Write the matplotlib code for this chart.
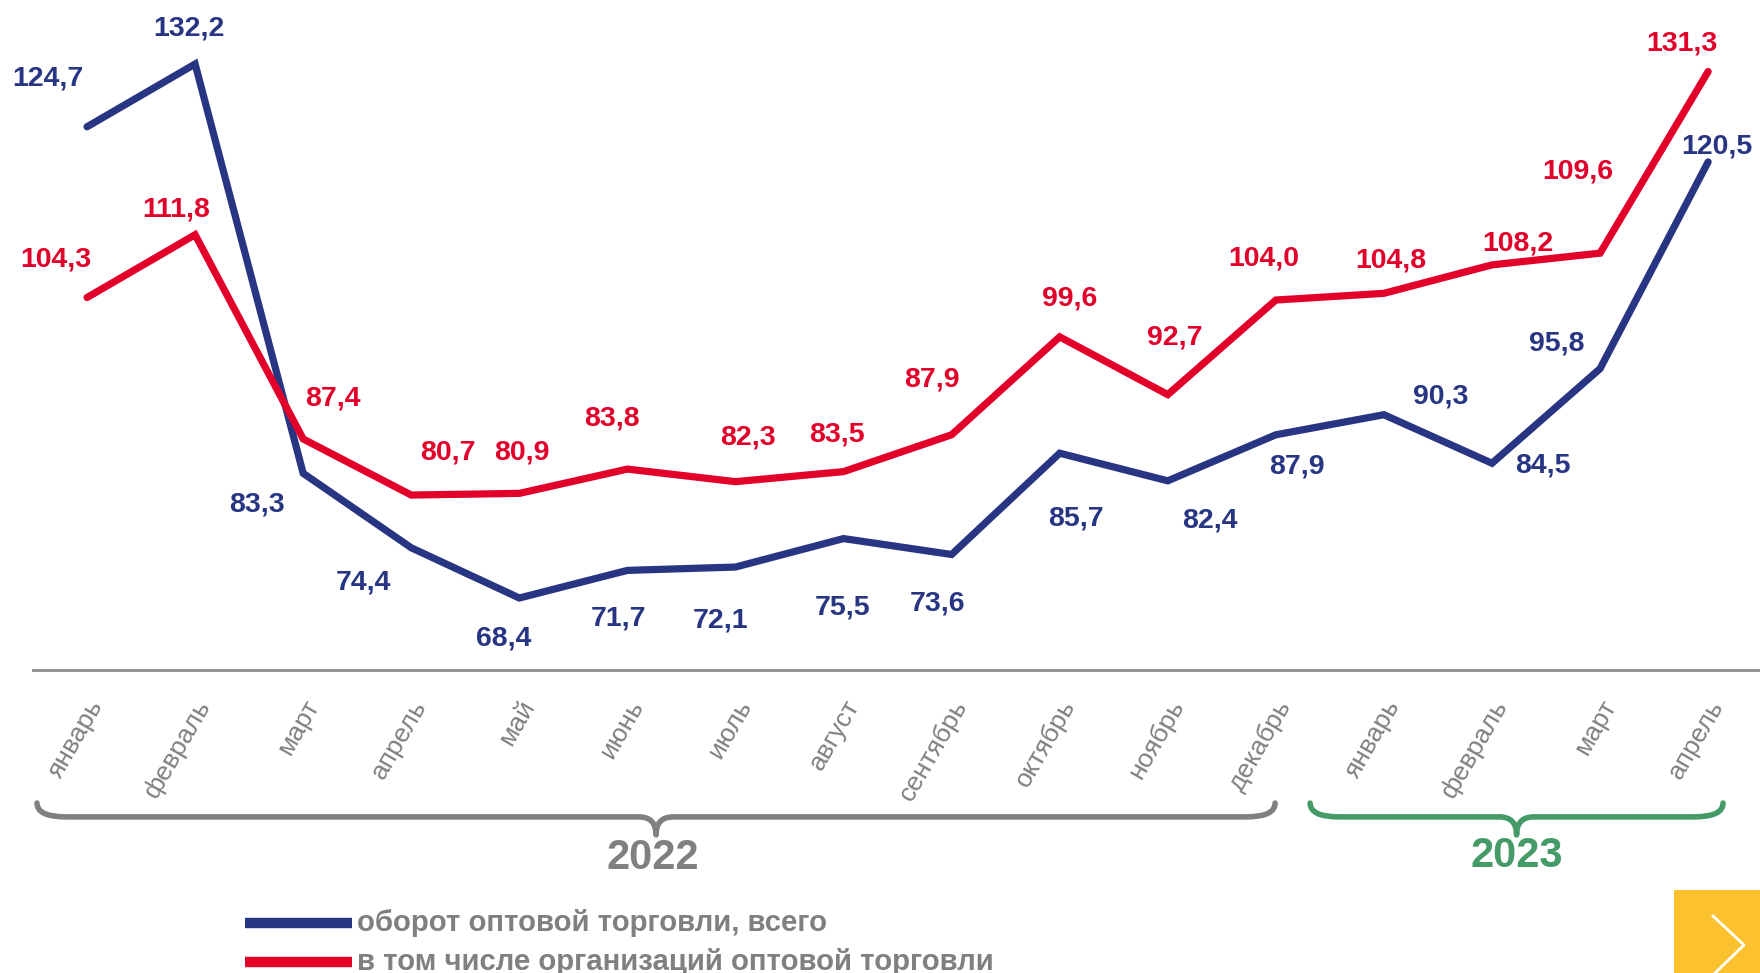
import matplotlib
matplotlib.use("Agg")
import matplotlib.pyplot as plt
import matplotlib.transforms as mtransforms
from matplotlib.path import Path
from matplotlib.patches import PathPatch, Rectangle
from matplotlib.lines import Line2D

plt.rcParams['font.family'] = ['Liberation Sans', 'DejaVu Sans']

months = ['январь', 'февраль', 'март', 'апрель', 'май', 'июнь', 'июль', 'август',
          'сентябрь', 'октябрь', 'ноябрь', 'декабрь',
          'январь', 'февраль', 'март', 'апрель']
total = [124.7, 132.2, 83.3, 74.4, 68.4, 71.7, 72.1, 75.5, 73.6, 85.7, 82.4, 87.9,
         90.3, 84.5, 95.8, 120.5]
orgs = [104.3, 111.8, 87.4, 80.7, 80.9, 83.8, 82.3, 83.5, 87.9, 99.6, 92.7, 104.0,
        104.8, 108.2, 109.6, 131.3]
years = ['2022', '2023']
legend_labels = ['оборот оптовой торговли, всего',
                 'в том числе организаций оптовой торговли']

BLUE = '#283583'
RED = '#e2002a'
GREY = '#808080'
GREEN = '#459b67'

# label offsets in pixels (dx, dy down)
off_total = [(-39, -48), (-6, -35), (-46, 31), (-48, 35), (-16, 40), (-9, 48), (-15, 53),
             (-1, 69), (-14, 49), (16, 65), (42, 40), (21, 32), (57, -18), (51, 2),
             (-43, -25), (9, -15)]
off_orgs = [(-31, -38), (-19, -25), (30, -40), (37, -43), (2, -41), (-15, -51), (12, -44),
            (-7, -37), (-20, -55), (10, -38), (7, -57), (-12, -42), (7, -33), (26, -21),
            (-22, -82), (-26, -28)]

W, H = 1760, 973
fig = plt.figure(figsize=(W / 100, H / 100), dpi=100)
ax = fig.add_axes([33 / W, (H - 670) / H, (W - 33) / W, 670 / H])

x = list(range(len(months)))
ax.plot(x, total, color=BLUE, lw=5.2, solid_joinstyle='miter', solid_capstyle='round', zorder=3)
ax.plot(x, orgs, color=RED, lw=5.2, solid_joinstyle='miter', solid_capstyle='round', zorder=3)

for i in x:
    dx, dy = off_total[i]
    ax.annotate(f'{total[i]:.1f}'.replace('.', ','), (i, total[i]), xytext=(dx, -dy),
                textcoords='offset pixels', ha='center', va='center',
                fontsize=20.5, fontweight='bold', color=BLUE)
    dx, dy = off_orgs[i]
    ax.annotate(f'{orgs[i]:.1f}'.replace('.', ','), (i, orgs[i]), xytext=(dx, -dy),
                textcoords='offset pixels', ha='center', va='center',
                fontsize=20.5, fontweight='bold', color=RED)

ax.set_xlim(-0.5, 15.48)
ax.set_ylim(132.2 - 606 / 8.37, 132.2 + 64 / 8.37)
ax.set_yticks([])
for s in ['top', 'left', 'right']:
    ax.spines[s].set_visible(False)
ax.spines['bottom'].set_color('#8c8c8c')
ax.spines['bottom'].set_linewidth(2)

ax.set_xticks(x)
ax.set_xticklabels(months, rotation=60, ha='right', va='center', rotation_mode='anchor',
                   fontsize=19, color=GREY)
ax.tick_params(axis='x', length=0, pad=23)
shift = mtransforms.ScaledTranslation(10 / 100, 0, fig.dpi_scale_trans)
for lab in ax.get_xticklabels():
    lab.set_transform(lab.get_transform() + shift)


def brace(x0, x1, color):
    xm = (x0 + x1) / 2
    yt, yh, yb = 43.9, 42.25, 40.1
    r = 0.27
    r2 = 0.16
    verts = [(x0, yt), (x0, yh), (x0 + r, yh),
             (xm - r2, yh), (xm, yh), (xm, yb),
             (xm, yh), (xm + r2, yh),
             (x1 - r, yh), (x1, yh), (x1, yt)]
    codes = [Path.MOVETO, Path.CURVE3, Path.CURVE3,
             Path.LINETO, Path.CURVE3, Path.CURVE3,
             Path.CURVE3, Path.CURVE3,
             Path.LINETO, Path.CURVE3, Path.CURVE3]
    ax.add_patch(PathPatch(Path(verts, codes), fill=False, edgecolor=color, lw=4,
                           capstyle='round', joinstyle='round', clip_on=False))


brace(-0.463, 10.993, GREY)
brace(11.317, 15.138, GREEN)
ax.text(5.23, 37.3, years[0], ha='center', va='center', fontsize=30, fontweight='bold',
        color=GREY, clip_on=False)
ax.text(13.23, 37.55, years[1], ha='center', va='center', fontsize=30, fontweight='bold',
        color=GREEN, clip_on=False)

# legend
for py, col, lab in [(923, BLUE, legend_labels[0]), (962, RED, legend_labels[1])]:
    fig.add_artist(Line2D([245 / W, 352 / W], [1 - py / H, 1 - py / H], color=col, lw=7.5,
                          solid_capstyle='butt'))
    fig.text(357 / W, 1 - py / H, lab, ha='left', va='center', fontsize=21.2,
             fontweight='bold', color=GREY)

# yellow "next" button
fig.add_artist(Rectangle((1674 / W, 0), (W - 1674) / W, (H - 890) / H,
                         transform=fig.transFigure, color='#fcc12f', lw=0))
fig.add_artist(Line2D([1713 / W, 1744 / W, 1715 / W],
                      [1 - 916 / H, 1 - 945 / H, 1 - 973 / H], color='white', lw=2))

fig.savefig('out.png', dpi=100)
